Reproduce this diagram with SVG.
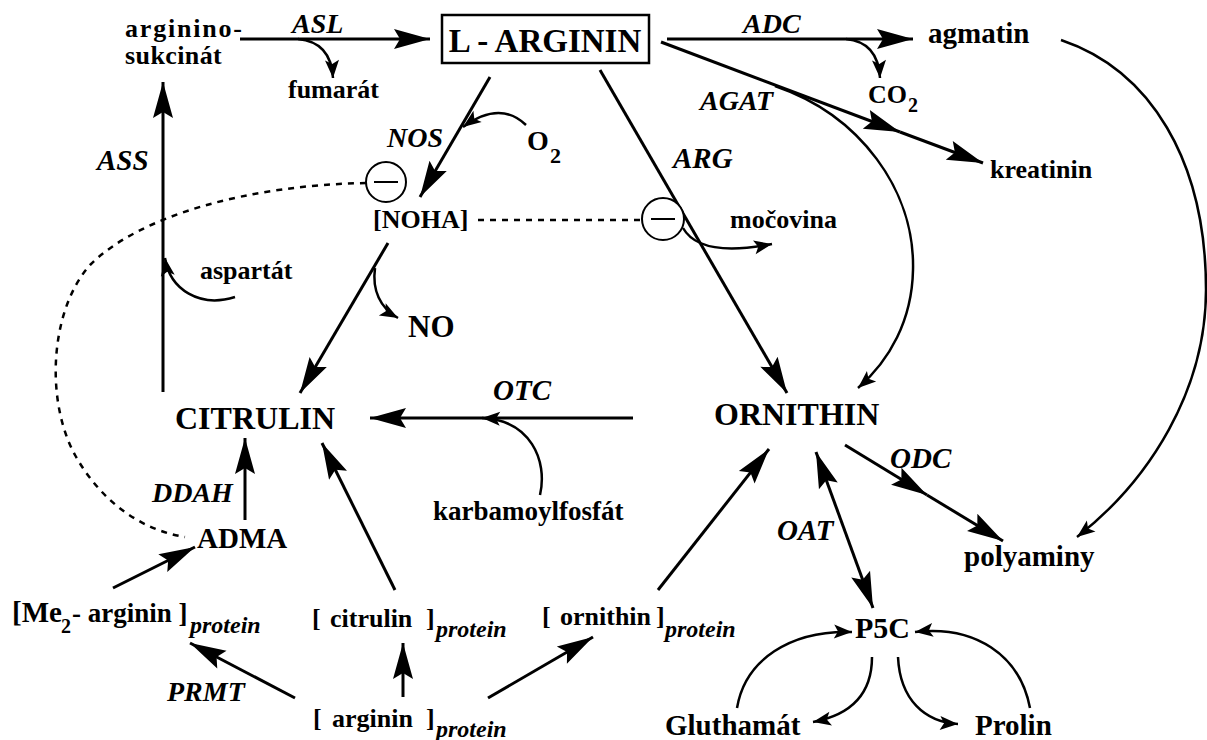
<svg xmlns="http://www.w3.org/2000/svg" width="1207" height="740" viewBox="0 0 1207 740">
<style>
.t{font-family:"Liberation Serif","Times New Roman",serif;font-weight:bold;fill:#000}
.e{font-style:italic}
.ln{fill:none;stroke:#000;stroke-width:3}
.cv{fill:none;stroke:#000;stroke-width:2.5}
.big{marker-end:url(#ab)}
.sm{marker-end:url(#as)}
.ds{fill:none;stroke:#000;stroke-width:2.5;stroke-dasharray:6 6}
.inh{fill:#fff;stroke:#000;stroke-width:2}
</style>
<defs>
<marker id="ab" viewBox="-38 -11 40 22" refX="0" refY="0" markerWidth="40" markerHeight="22" markerUnits="userSpaceOnUse" orient="auto-start-reverse"><path d="M0,0 L-36,-10 L-30,0 L-36,10 Z" fill="#000"/></marker>
<marker id="as" viewBox="-20 -8 22 16" refX="0" refY="0" markerWidth="22" markerHeight="16" markerUnits="userSpaceOnUse" orient="auto"><path d="M0,0 L-18,-7 L-14,0 L-18,7 Z" fill="#000"/></marker>
</defs>
<rect width="1207" height="740" fill="#fff"/>

<g id="connectors">
<path class="ln big" d="M240,39 L430,39"/>
<path class="cv sm" d="M298,39 Q331,42 333,78"/>
<path class="ln big" d="M667,39 L913,39"/>
<path class="cv sm" d="M846,39 Q878,42 880,78"/>
<path class="ln big" d="M661,42 L900,132"/>
<path class="ln big" d="M900,132 L983,163"/>
<path class="cv sm" d="M775,86 C860,115 915,190 913,270 C912,320 890,360 858,388"/>
<path class="cv sm" d="M1061,40 C1150,70 1206,160 1206,290 C1206,390 1150,480 1077,537"/>
<path class="ln big" d="M490,77 L420,197"/>
<path class="cv sm" d="M526,125 Q500,100 463,127"/>
<path class="ds" d="M366,183 C250,185 140,215 90,265 C50,310 45,400 75,455 C100,500 140,530 185,537"/>
<path class="ds" d="M478,220 L642,220"/>
<path class="ln big" d="M600,70 L787,393"/>
<path class="cv sm" d="M683,228 Q700,258 772,244"/>
<path class="ln big" d="M388,243 L300,393"/>
<path class="cv sm" d="M375,268 C372,290 380,308 398,318"/>
<path class="ln big" d="M163,392 L163,82"/>
<path class="cv sm" d="M235,297 C200,308 170,290 165,258"/>
<path class="ln big" d="M633,418 L370,418"/>
<path class="cv sm" d="M540,495 C548,460 530,420 482,418"/>
<path class="ln big" d="M845,445 L927,495"/>
<path class="ln big" d="M927,495 L1003,541"/>
<path class="ln" d="M816,452 L873,608" marker-start="url(#ab)" marker-end="url(#ab)"/>
<path class="cv sm" d="M737,708 C745,660 790,630 852,632"/>
<path class="cv sm" d="M872,657 C872,695 850,715 813,722"/>
<path class="cv sm" d="M898,657 C900,700 925,722 958,724"/>
<path class="cv sm" d="M1030,708 C1020,655 975,625 915,632"/>
<path class="ln big" d="M658,590 L769,449"/>
<path class="ln big" d="M488,698 L593,637"/>
<path class="ln big" d="M395,590 L322,443"/>
<path class="ln big" d="M403,697 L403,643"/>
<path class="ln big" d="M295,698 L190,643"/>
<path class="ln big" d="M113,588 L195,547"/>
<path class="ln big" d="M245,520 L245,438"/>
</g>

<g id="enzymes">
<text class="t e" x="292" y="33" font-size="28">ASL</text>
<text class="t e" x="743" y="33" font-size="28">ADC</text>
<text class="t e" x="700" y="110" font-size="28">AGAT</text>
<text class="t e" x="387" y="147" font-size="28">NOS</text>
<text class="t e" x="673" y="168" font-size="29">ARG</text>
<text class="t e" x="97" y="170" font-size="29">ASS</text>
<text class="t e" x="493" y="400" font-size="29">OTC</text>
<text class="t e" x="890" y="468" font-size="29">ODC</text>
<text class="t e" x="152" y="502" font-size="28">DDAH</text>
<text class="t e" x="777" y="540" font-size="29">OAT</text>
<text class="t e" x="167" y="701" font-size="28">PRMT</text>
</g>

<g id="inhibitors">
<g id="inh-1"><circle class="inh" cx="386" cy="182" r="20"/><line x1="374" y1="182" x2="398" y2="182" stroke="#000" stroke-width="2"/></g>
<g id="inh-2"><circle class="inh" cx="663" cy="219" r="21"/><line x1="651" y1="219" x2="675" y2="219" stroke="#000" stroke-width="2"/></g>
</g>

<g id="argininosukcinat"><text class="t" font-size="26"><tspan x="125" y="37" letter-spacing="1.8">arginino-</tspan><tspan x="125" y="64" letter-spacing="0.4">sukcinát</tspan></text></g>
<g id="fumarat"><text class="t" x="288" y="98" font-size="26">fumarát</text></g>
<g id="l-arginin"><rect x="442" y="15" width="207" height="48" fill="none" stroke="#000" stroke-width="2.5"/><text class="t" x="545" y="52" font-size="33" text-anchor="middle">L - ARGININ</text></g>
<g id="agmatin"><text class="t" x="928" y="43" font-size="29">agmatin</text></g>
<g id="co2"><text class="t" x="868" y="103" font-size="26">CO<tspan x="908" y="112" font-size="20">2</tspan></text></g>
<g id="kreatinin"><text class="t" x="990" y="178" font-size="26">kreatinin</text></g>
<g id="o2"><text class="t" x="527" y="150" font-size="28">O<tspan x="550" y="163" font-size="22">2</tspan></text></g>
<g id="noha"><text class="t" x="373" y="228" font-size="26">[NOHA]</text></g>
<g id="mocovina"><text class="t" x="730" y="228" font-size="26">močovina</text></g>
<g id="aspartat"><text class="t" x="200" y="279" font-size="26">aspartát</text></g>
<g id="no"><text class="t" x="408" y="337" font-size="31">NO</text></g>
<g id="citrulin"><text class="t" x="175" y="429" font-size="32">CITRULIN</text></g>
<g id="ornithin"><text class="t" x="714" y="425" font-size="32">ORNITHIN</text></g>
<g id="karbamoylfosfat"><text class="t" x="433" y="520" font-size="27">karbamoylfosfát</text></g>
<g id="adma"><text class="t" x="197" y="548" font-size="29">ADMA</text></g>
<g id="polyaminy"><text class="t" x="964" y="566" font-size="29">polyaminy</text></g>
<g id="me2-arginin-protein"><text class="t" y="622" font-size="27"><tspan x="12" font-size="29">[Me</tspan><tspan x="61" y="633" font-size="20">2</tspan><tspan x="72" y="622">- arginin ]</tspan><tspan x="190" y="633" font-size="24" class="e">protein</tspan></text></g>
<g id="citrulin-protein"><text class="t" y="627" font-size="26"><tspan x="312">[</tspan><tspan x="330">citrulin</tspan><tspan x="426">]</tspan><tspan x="436" y="637" font-size="24" class="e">protein</tspan></text></g>
<g id="ornithin-protein"><text class="t" y="625" font-size="26"><tspan x="542">[</tspan><tspan x="560">ornithin</tspan><tspan x="656">]</tspan><tspan x="665" y="637" font-size="24" class="e">protein</tspan></text></g>
<g id="arginin-protein"><text class="t" y="727" font-size="26"><tspan x="313">[</tspan><tspan x="332">arginin</tspan><tspan x="426">]</tspan><tspan x="436" y="737" font-size="24" class="e">protein</tspan></text></g>
<g id="p5c"><text class="t" x="855" y="638" font-size="30">P5C</text></g>
<g id="gluthamat"><text class="t" x="665" y="735" font-size="29">Gluthamát</text></g>
<g id="prolin"><text class="t" x="975" y="735" font-size="29">Prolin</text></g>
</svg>
